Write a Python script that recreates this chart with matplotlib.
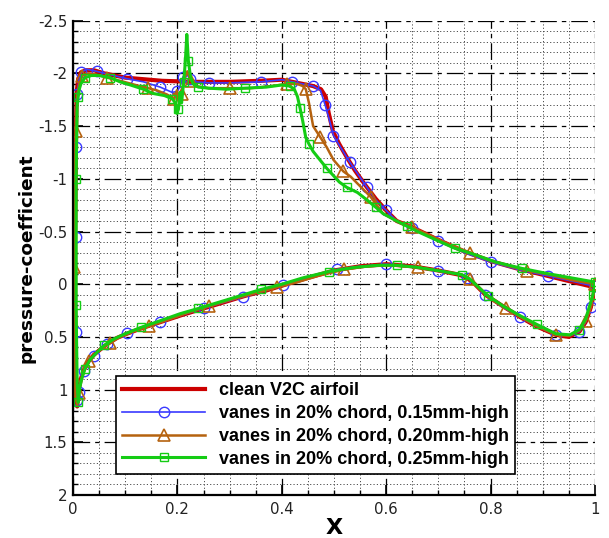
import matplotlib
matplotlib.use("Agg")
import matplotlib.pyplot as plt
from matplotlib.ticker import MultipleLocator, FuncFormatter

plt.rcParams["axes.unicode_minus"] = False
plt.rcParams["lines.scale_dashes"] = False

# ---- Pressure-coefficient distributions (x/c, Cp), TE(upper) -> LE -> TE(lower)
clean_x = [1.000, 0.950, 0.900, 0.850, 0.800, 0.750, 0.700, 0.650, 0.620, 0.600,
           0.580, 0.560, 0.540, 0.525, 0.510, 0.498, 0.490, 0.484, 0.475, 0.460,
           0.440, 0.420, 0.400, 0.360, 0.300, 0.230, 0.170, 0.100, 0.060, 0.040,
           0.025, 0.015, 0.010, 0.007, 0.006, 0.005, 0.004, 0.004, 0.005, 0.006,
           0.008, 0.011, 0.015, 0.020, 0.030, 0.040, 0.052, 0.065, 0.084, 0.103,
           0.130, 0.167, 0.210, 0.250, 0.290, 0.330, 0.370, 0.403, 0.450, 0.500,
           0.550, 0.600, 0.650, 0.700, 0.740, 0.755, 0.770, 0.790, 0.824, 0.856,
           0.888, 0.925, 0.950, 0.970, 0.982, 0.992, 0.998, 1.000]
clean_cp = [0.03, -0.03, -0.09, -0.15, -0.22, -0.31, -0.42, -0.54, -0.60, -0.70,
            -0.81, -0.94, -1.08, -1.20, -1.33, -1.45, -1.62, -1.78, -1.85, -1.88,
            -1.90, -1.92, -1.94, -1.93, -1.92, -1.92, -1.93, -1.96, -2.00, -2.03,
            -2.03, -2.01, -1.95, -1.82, -1.50, -1.00, -0.40, 0.20, 0.70, 1.10,
            1.16, 1.00, 0.90, 0.82, 0.73, 0.67, 0.62, 0.57, 0.51, 0.47,
            0.42, 0.36, 0.29, 0.23, 0.17, 0.11, 0.06, 0.01, -0.06, -0.13,
            -0.17, -0.19, -0.17, -0.13, -0.09, -0.06, 0.00, 0.10, 0.21, 0.31,
            0.40, 0.48, 0.50, 0.45, 0.36, 0.22, 0.08, 0.03]

v15_x = [1.000, 0.955, 0.910, 0.860, 0.800, 0.750, 0.700, 0.678, 0.650, 0.620,
         0.600, 0.580, 0.563, 0.545, 0.530, 0.515, 0.499, 0.490, 0.483, 0.474,
         0.460, 0.440, 0.420, 0.400, 0.360, 0.300, 0.260, 0.235, 0.225, 0.216,
         0.211, 0.205, 0.200, 0.190, 0.167, 0.135, 0.103, 0.070, 0.045, 0.026,
         0.016, 0.011, 0.008, 0.007, 0.006, 0.006, 0.005, 0.005, 0.006, 0.006,
         0.007, 0.009, 0.012, 0.016, 0.021, 0.030, 0.040, 0.052, 0.065, 0.084,
         0.103, 0.130, 0.167, 0.210, 0.250, 0.290, 0.326, 0.370, 0.403, 0.450,
         0.505, 0.550, 0.600, 0.650, 0.700, 0.740, 0.755, 0.770, 0.790, 0.824,
         0.856, 0.888, 0.925, 0.952, 0.970, 0.982, 0.992, 0.998, 1.000]
v15_cp = [0.02, -0.03, -0.08, -0.13, -0.21, -0.30, -0.41, -0.47, -0.53, -0.60,
          -0.70, -0.80, -0.92, -1.05, -1.16, -1.28, -1.41, -1.58, -1.70, -1.84,
          -1.88, -1.90, -1.92, -1.94, -1.92, -1.91, -1.91, -1.92, -1.95, -2.00,
          -1.97, -1.88, -1.83, -1.82, -1.87, -1.92, -1.95, -1.99, -2.02, -2.04,
          -2.01, -1.93, -1.80, -1.55, -1.30, -0.90, -0.45, 0.05, 0.45, 0.80,
          1.10, 1.16, 1.02, 0.91, 0.82, 0.73, 0.68, 0.62, 0.57, 0.51,
          0.46, 0.42, 0.36, 0.29, 0.23, 0.17, 0.12, 0.06, 0.01, -0.06,
          -0.14, -0.17, -0.19, -0.17, -0.13, -0.09, -0.06, 0.00, 0.10, 0.22,
          0.31, 0.40, 0.48, 0.49, 0.45, 0.36, 0.22, 0.08, 0.02]

v20_x = [1.000, 0.955, 0.914, 0.870, 0.837, 0.800, 0.760, 0.720, 0.685, 0.650,
         0.620, 0.594, 0.570, 0.550, 0.532, 0.518, 0.499, 0.486, 0.473, 0.460,
         0.452, 0.446, 0.440, 0.430, 0.410, 0.380, 0.340, 0.300, 0.260, 0.235,
         0.226, 0.219, 0.214, 0.208, 0.203, 0.199, 0.194, 0.180, 0.160, 0.144,
         0.120, 0.090, 0.065, 0.045, 0.030, 0.018, 0.012, 0.008, 0.005, 0.004,
         0.003, 0.002, 0.002, 0.003, 0.003, 0.004, 0.008, 0.011, 0.015, 0.020,
         0.030, 0.040, 0.055, 0.070, 0.090, 0.115, 0.145, 0.180, 0.220, 0.260,
         0.300, 0.345, 0.390, 0.430, 0.470, 0.520, 0.565, 0.610, 0.660, 0.710,
         0.745, 0.760, 0.780, 0.800, 0.830, 0.860, 0.890, 0.925, 0.950, 0.970,
         0.982, 0.992, 0.998, 1.000]
v20_cp = [0.00, -0.04, -0.09, -0.13, -0.17, -0.22, -0.30, -0.38, -0.46, -0.54,
          -0.60, -0.67, -0.83, -0.93, -1.02, -1.07, -1.18, -1.30, -1.40, -1.50,
          -1.72, -1.85, -1.88, -1.90, -1.90, -1.88, -1.86, -1.86, -1.86, -1.88,
          -1.93, -2.02, -1.96, -1.80, -1.74, -1.84, -1.76, -1.80, -1.84, -1.86,
          -1.89, -1.93, -1.96, -1.99, -2.00, -1.98, -1.90, -1.78, -1.45, -1.07,
          -0.62, -0.16, 0.26, 0.62, 0.90, 1.03, 1.15, 1.03, 0.92, 0.82,
          0.73, 0.67, 0.61, 0.56, 0.50, 0.45, 0.40, 0.34, 0.27, 0.21,
          0.15, 0.09, 0.03, -0.02, -0.08, -0.14, -0.17, -0.18, -0.16, -0.12,
          -0.09, -0.05, 0.05, 0.14, 0.23, 0.32, 0.40, 0.48, 0.49, 0.44,
          0.35, 0.22, 0.08, 0.00]

v25_x = [1.000, 0.955, 0.910, 0.860, 0.810, 0.770, 0.732, 0.700, 0.660, 0.640,
         0.620, 0.594, 0.580, 0.563, 0.545, 0.524, 0.510, 0.499, 0.486, 0.473,
         0.460, 0.452, 0.446, 0.440, 0.435, 0.430, 0.424, 0.415, 0.400, 0.370,
         0.330, 0.294, 0.260, 0.240, 0.230, 0.225, 0.221, 0.218, 0.215, 0.212,
         0.208, 0.205, 0.202, 0.199, 0.196, 0.190, 0.175, 0.153, 0.135, 0.110,
         0.090, 0.071, 0.050, 0.035, 0.023, 0.015, 0.012, 0.010, 0.008, 0.007,
         0.006, 0.006, 0.006, 0.006, 0.007, 0.008, 0.010, 0.013, 0.017, 0.023,
         0.032, 0.045, 0.060, 0.078, 0.100, 0.130, 0.165, 0.205, 0.240, 0.280,
         0.320, 0.360, 0.400, 0.440, 0.490, 0.540, 0.585, 0.620, 0.660, 0.710,
         0.745, 0.760, 0.775, 0.795, 0.825, 0.857, 0.888, 0.925, 0.952, 0.970,
         0.982, 0.990, 0.996, 1.000]
v25_cp = [-0.02, -0.06, -0.10, -0.15, -0.21, -0.28, -0.34, -0.41, -0.50, -0.55,
          -0.60, -0.67, -0.73, -0.80, -0.87, -0.92, -0.97, -1.03, -1.10, -1.18,
          -1.26, -1.33, -1.39, -1.55, -1.67, -1.78, -1.85, -1.88, -1.89, -1.87,
          -1.86, -1.85, -1.86, -1.87, -1.90, -1.97, -2.12, -2.37, -2.10, -1.92,
          -1.72, -1.82, -1.66, -1.62, -1.72, -1.76, -1.79, -1.81, -1.85, -1.89,
          -1.92, -1.96, -1.98, -1.98, -1.96, -1.90, -1.85, -1.78, -1.70, -1.40,
          -1.00, -0.60, -0.20, 0.20, 0.60, 0.95, 1.12, 0.98, 0.89, 0.80,
          0.72, 0.65, 0.58, 0.52, 0.47, 0.41, 0.35, 0.28, 0.23, 0.17,
          0.11, 0.05, 0.00, -0.06, -0.12, -0.16, -0.18, -0.18, -0.16, -0.12,
          -0.09, -0.05, 0.02, 0.11, 0.21, 0.30, 0.38, 0.47, 0.48, 0.43,
          0.33, 0.20, 0.10, -0.02]

series_labels = ["clean V2C airfoil",
                 "vanes in 20% chord, 0.15mm-high",
                 "vanes in 20% chord, 0.20mm-high",
                 "vanes in 20% chord, 0.25mm-high"]

x_ticks = [0, 0.2, 0.4, 0.6, 0.8, 1]
y_ticks = [-2.5, -2, -1.5, -1, -0.5, 0, 0.5, 1, 1.5, 2]

# ---- figure / axes
fig = plt.figure(figsize=(6.09, 5.38), dpi=100)
ax = fig.add_axes([0.1199, 0.0799, 0.8571, 0.8816])

RED, BLUE, BROWN, GREEN = "#cc0000", "#3a3aff", "#b5620f", "#14cc14"

ax.plot(clean_x, clean_cp, color=RED, lw=3.0, label=series_labels[0], zorder=3)
ax.plot(v15_x, v15_cp, color=BLUE, lw=1.2, marker="o", ms=7.5, mfc="none",
        mec=BLUE, mew=1.0, markevery=2, label=series_labels[1], zorder=4)
ax.plot(v20_x, v20_cp, color=BROWN, lw=1.8, marker="^", ms=9, mfc="none",
        mec=BROWN, mew=1.2, markevery=3, label=series_labels[2], zorder=5)
ax.plot(v25_x, v25_cp, color=GREEN, lw=2.2, marker="s", ms=6, mfc="none",
        mec=GREEN, mew=1.0, markevery=3, label=series_labels[3], zorder=6)

ax.set_xlim(0, 1)
ax.set_ylim(2, -2.5)

ax.xaxis.set_minor_locator(MultipleLocator(0.05))
ax.yaxis.set_minor_locator(MultipleLocator(0.1))
ax.set_xticks(x_ticks)
ax.set_yticks(y_ticks)
fmt = FuncFormatter(lambda v, p: "%g" % v)
ax.xaxis.set_major_formatter(fmt)
ax.yaxis.set_major_formatter(fmt)

ax.tick_params(which="major", direction="in", length=7, width=1.2,
               labelsize=10.8, labelcolor="#222222", top=False, right=False)
ax.tick_params(which="minor", direction="in", length=3.5, width=1.0,
               top=False, right=False)
ax.tick_params(axis="x", which="major", pad=5)
ax.tick_params(axis="y", which="major", pad=4)

# grid: dash-dot majors, fine dotted minors
ax.grid(which="major", color="black", lw=0.9, linestyle=(0, (12, 3.6, 3.2, 3.6)))
ax.grid(which="minor", color="#444444", lw=0.7, linestyle=(0, (0.8, 1.6)))
ax.set_axisbelow(True)

for side in ("top", "right"):
    ax.spines[side].set_visible(False)
for side in ("left", "bottom"):
    ax.spines[side].set_linewidth(1.6)
    ax.spines[side].set_color("black")
    ax.spines[side].set_zorder(10)

ax.set_xlabel("X", fontsize=16, fontweight="bold", va="center")
ax.xaxis.set_label_coords(0.5, -0.0695)
ax.set_ylabel("pressure-coefficient", fontsize=13.3, fontweight="bold", labelpad=2)

leg = ax.legend(loc="upper left", bbox_to_anchor=(0.0824, 0.251),
                prop={"family": "Liberation Sans", "weight": "bold", "size": 13},
                frameon=True, fancybox=False, shadow=False, framealpha=1,
                edgecolor="black", handlelength=4.6, handletextpad=0.75,
                labelspacing=0.32, borderpad=0.35, borderaxespad=0)
leg.get_frame().set_linewidth(1.2)
leg.set_zorder(20)

fig.savefig("out.png", dpi=100)
